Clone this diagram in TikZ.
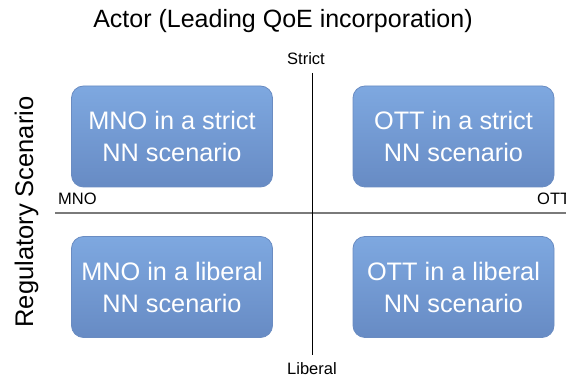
\documentclass[tikz,border=0pt]{standalone}
\usepackage{fontspec}
\setmainfont{Liberation Sans}
\definecolor{boxtop}{HTML}{7EA8E0}
\definecolor{boxbot}{HTML}{678BC4}
\definecolor{boxedge}{HTML}{6A8CC2}
\definecolor{axisgray}{HTML}{7A7A7A}
\begin{document}
\begin{tikzpicture}[x=1pt,y=-1pt,
  quad/.style={draw=boxedge, line width=0.8pt, rounded corners=12pt,
    top color=boxtop, bottom color=boxbot,
    minimum width=201pt, minimum height=101pt, inner sep=0pt,
    text=white, align=center, font=\fontsize{25.3}{32}\selectfont},
  axislabel/.style={inner sep=0pt, font=\fontsize{16.5}{18}\selectfont},
  heading/.style={inner sep=0pt, font=\fontsize{25}{28}\selectfont}]
\useasboundingbox (0,0) rectangle (566,382);

% quadrant boxes
\node[quad] (mnoS) at (172,136.5)   {MNO in a strict\\NN scenario};
\node[quad] (ottS) at (453.5,136.5) {OTT in a strict\\NN scenario};
\node[quad] (mnoL) at (172,287) {MNO in a liberal\\NN scenario};
\node[quad] (ottL) at (453.5,287) {OTT in a liberal\\NN scenario};

% axes
\coordinate (hL) at (55,213);
\coordinate (hR) at (570,213);
\coordinate (vT) at (312,73);
\coordinate (vB) at (312,355);
\draw[axisgray, line width=2pt] (hL) -- (hR);
\draw[black, line width=1pt] (vT) -- (vB);

% axis labels
\node[axislabel, anchor=base] (strict) at (306,65) {Strict};
\node[axislabel, anchor=base] (liberal) at (312,375) {Liberal};
\node[axislabel, anchor=base west] (mno) at (58,205) {MNO};
\node[axislabel, anchor=base west] (ott) at (537,205) {OTT};

% titles
\node[heading, anchor=base] (actor) at (283,28) {Actor (Leading QoE incorporation)};
\node[heading, anchor=base, rotate=90, font=\fontsize{25.5}{28}\selectfont] (regul) at (33,212) {Regulatory Scenario};
\end{tikzpicture}
\end{document}
